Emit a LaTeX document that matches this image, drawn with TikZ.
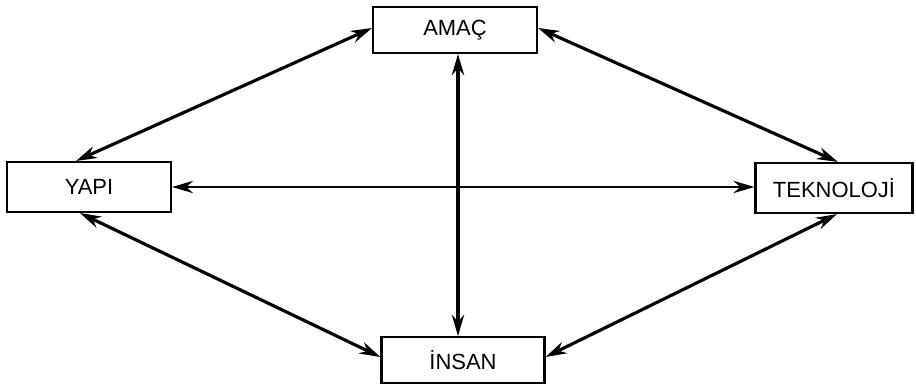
\documentclass[tikz,border=0pt]{standalone}
\usepackage{fontspec}
\setmainfont{Liberation Sans}
\usetikzlibrary{arrows.meta}

\begin{document}
\begin{tikzpicture}[x=0.02cm,y=-0.02cm,
    kutu/.style={draw,line width=1.2pt,inner sep=0pt,font=\fontsize{12.5}{14}\selectfont},
    ok/.style={{Stealth[length=12pt,width=7pt]}-{Stealth[length=12pt,width=7pt]},line width=1.8pt}]
        \useasboundingbox (0,0) rectangle (916,389);
        \node[kutu,minimum width=164*0.02cm,minimum height=46*0.02cm] (amac) at (455,30) {AMAÇ};
        \node[kutu,minimum width=164*0.02cm,minimum height=50*0.02cm] (yapi) at (89,187) {YAPI};
        \node[kutu,minimum width=157*0.02cm,minimum height=50*0.02cm] (tek) at (834,188) {TEKNOLOJİ};
        \node[kutu,minimum width=163*0.02cm,minimum height=46*0.02cm] (insan) at (463,360) {İNSAN};
        \coordinate (dik) at (458,0);
        \draw[ok](amac.south -| dik)--(insan.north -| dik);
        \draw[ok,line width=1.2pt](yapi.east)--(yapi.east -| tek.west);
        \draw[ok]([xshift=-0.26cm]yapi.north)--([yshift=0.04cm]amac.west);
        \draw[ok]([yshift=0.04cm]amac.east)--([xshift=0.08cm]tek.north);
        \draw[ok]([xshift=-0.18cm]yapi.south)--([yshift=0.06cm]insan.west);
        \draw[ok]([xshift=0.06cm]tek.south)--([yshift=0.06cm]insan.east);
\end{tikzpicture}
\end{document}
